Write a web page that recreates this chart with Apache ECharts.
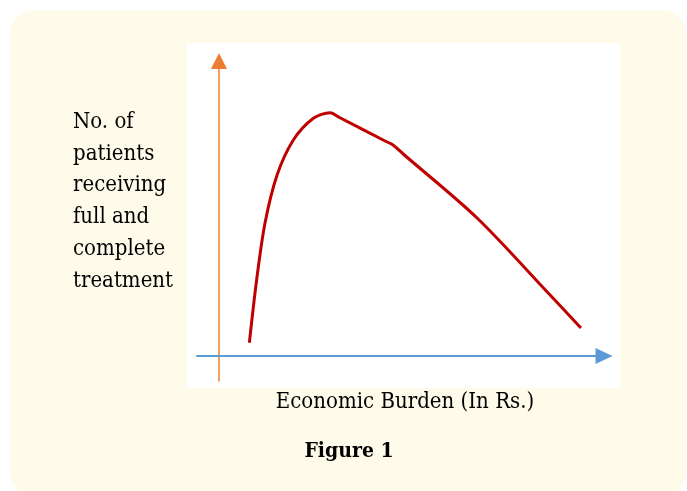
<!DOCTYPE html>
<html>
<head>
<meta charset="utf-8">
<script src="https://cdn.jsdelivr.net/npm/echarts@6/dist/echarts.min.js"></script>
<style>
  html, body { margin: 0; padding: 0; background: #ffffff; }
  #chart { width: 687px; height: 491px; }
</style>
</head>
<body>
<div id="chart"></div>
<script>
// Economic burden (x) vs no. of patients receiving full treatment (y), arbitrary units
const burden = [13.8, 17.1, 20.9, 26.4, 33.8, 42.9, 50.5, 55.0, 75.5, 79.1, 83.6, 117.3, 150.5, 164.5];
const patients = [5.3, 30.4, 53.1, 72.4, 86.4, 95.1, 97.3, 95.3, 86.0, 84.4, 80.9, 55.2, 24.4, 11.2];

const yLabelLines = ['No. of', 'patients', 'receiving', 'full and', 'complete', 'treatment'];
const xLabel = 'Economic Burden (In Rs.)';
const caption = 'Figure 1';

const chart = echarts.init(document.getElementById('chart'));
const serif = '"DejaVu Serif Condensed", "DejaVu Serif", "Liberation Serif", serif';

const option = {
  animation: false,
  grid: { left: 197, right: 83, top: 61, bottom: 110 },
  xAxis: {
    type: 'value',
    min: -10,
    max: 175,
    axisLine: {
      show: true,
      onZero: true,
      symbol: ['none', 'triangle'],
      symbolSize: [16, 17],
      lineStyle: { color: '#5b9bd5', width: 2 }
    },
    axisTick: { show: false },
    axisLabel: { show: false },
    splitLine: { show: false }
  },
  yAxis: {
    type: 'value',
    min: -10,
    max: 118,
    axisLine: {
      show: true,
      onZero: true,
      symbol: ['none', 'triangle'],
      symbolSize: [16, 16],
      lineStyle: { color: '#ed7d31', width: 1.5 }
    },
    axisTick: { show: false },
    axisLabel: { show: false },
    splitLine: { show: false }
  },
  graphic: [
    {
      type: 'rect', z: -10, silent: true,
      shape: { x: 10, y: 10, width: 676, height: 486, r: 24 },
      style: { fill: '#fffbea' }
    },
    {
      type: 'rect', z: -9, silent: true,
      shape: { x: 187, y: 43, width: 433, height: 345 },
      style: { fill: '#ffffff' }
    },
    {
      type: 'text', x: 73, y: 106.5,
      style: {
        text: yLabelLines.join('\n'),
        font: '22px ' + serif,
        lineHeight: 31.7,
        fill: '#000000',
        textAlign: 'left',
        textVerticalAlign: 'top'
      }
    },
    {
      type: 'text', x: 405, y: 402,
      style: {
        text: xLabel,
        font: '22px ' + serif,
        fill: '#000000',
        textAlign: 'center',
        textVerticalAlign: 'middle'
      }
    },
    {
      type: 'text', x: 349, y: 452,
      style: {
        text: caption,
        font: 'bold 21px ' + serif,
        fill: '#000000',
        textAlign: 'center',
        textVerticalAlign: 'middle'
      }
    }
  ],
  series: [
    {
      type: 'line',
      data: burden.map((b, i) => [b, patients[i]]),
      smooth: 0.3,
      showSymbol: false,
      lineStyle: { color: '#c00000', width: 3 }
    }
  ]
};

chart.setOption(option);
</script>
</body>
</html>
